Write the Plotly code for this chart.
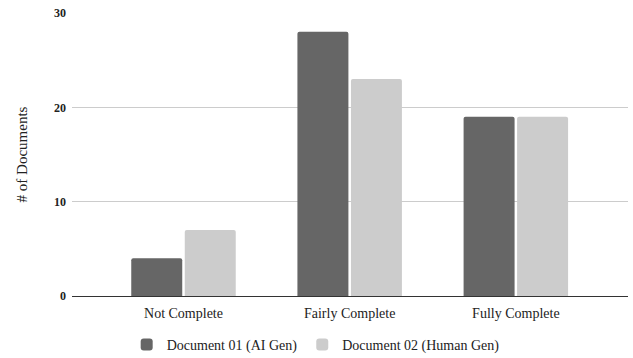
import plotly.graph_objects as go

categories = ["Not Complete", "Fairly Complete", "Fully Complete"]
doc01_ai = [4, 28, 19]
doc02_human = [7, 23, 19]
series_names = ["Document 01 (AI Gen)", "Document 02 (Human Gen)"]
y_ticks = [0, 10, 20, 30]

FONT = "Liberation Serif"

fig = go.Figure()
fig.add_trace(go.Bar(x=categories, y=doc01_ai, name=series_names[0],
                     marker=dict(color="#666666", line=dict(width=0), cornerradius=2)))
fig.add_trace(go.Bar(x=categories, y=doc02_human, name=series_names[1],
                     marker=dict(color="#cccccc", line=dict(width=0), cornerradius=2)))

fig.update_layout(
    width=633, height=358,
    margin=dict(l=72, r=5, t=13, b=62, autoexpand=False),
    paper_bgcolor="white", plot_bgcolor="white",
    barmode="group", bargap=0.356, bargroupgap=0.047,
    font=dict(family=FONT, size=14, color="#222222"),
    showlegend=True,
    legend=dict(orientation="h", x=0.4987, xanchor="center", xref="container",
                y=(358 - 345) / 358, yref="container", yanchor="middle",
                font=dict(family=FONT, size=14, color="#222222"),
                itemwidth=30, tracegroupgap=0, bgcolor="rgba(0,0,0,0)"),
    xaxis=dict(type="category", range=[-0.671, 2.675], showgrid=False,
               showline=False, zeroline=False, ticks="",
               tickfont=dict(family=FONT, size=14, color="#222222"),
               ticklabelstandoff=7),
    yaxis=dict(range=[0, 30], tickvals=y_ticks, showgrid=True,
               gridcolor="#cccccc", gridwidth=1, zeroline=True,
               zerolinecolor="#333333", zerolinewidth=1.3, showline=False,
               ticks="", tickfont=dict(family=FONT, size=12, color="#222222", weight="bold"),
               ticklabelstandoff=5,
               title=dict(text="# of Documents", font=dict(family=FONT, size=15, color="#222222"),
                          standoff=22)),
)

fig.write_html("out.html", config={"displayModeBar": False},
               post_script="document.body.style.margin='0';")
